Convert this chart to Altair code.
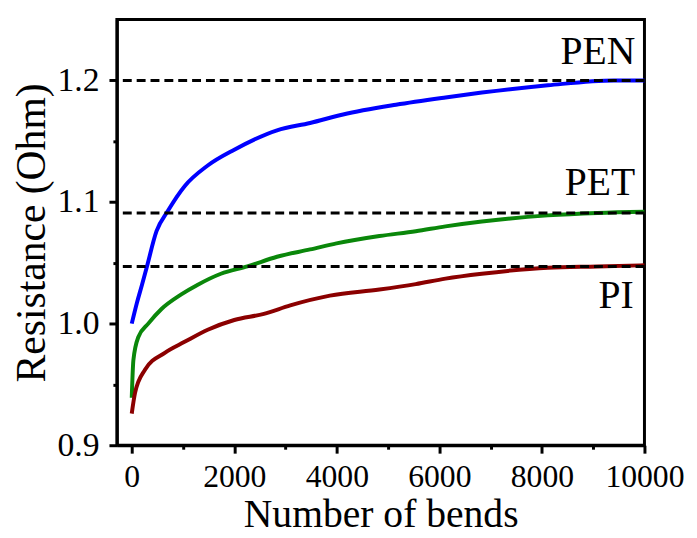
import altair as alt
import pandas as pd

# ---- data ----
pen_x = [0, 100, 200, 290, 483, 709, 1031, 1482, 2000, 2834, 3478, 4122, 5153, 6120, 6829, 8116, 9405, 10000]
pen_y = [1.000, 1.017, 1.032, 1.046, 1.076, 1.093, 1.113, 1.130, 1.143, 1.159, 1.165, 1.172, 1.180, 1.186, 1.190, 1.196, 1.200, 1.200]

pet_x = [0, 32, 129, 322, 580, 966, 1289, 1739, 2255, 2834, 3478, 3994, 4831, 5540, 6120, 6829, 8116, 9082, 10000]
pet_y = [0.939, 0.970, 0.989, 1.000, 1.012, 1.024, 1.032, 1.041, 1.047, 1.055, 1.061, 1.066, 1.072, 1.076, 1.080, 1.084, 1.089, 1.091, 1.092]

pi_x = [0, 64, 258, 645, 1031, 1482, 2000, 2577, 3092, 3865, 4831, 5540, 6120, 6829, 8116, 9082, 10000]
pi_y = [0.926, 0.943, 0.962, 0.976, 0.985, 0.995, 1.003, 1.008, 1.015, 1.023, 1.028, 1.0325, 1.037, 1.041, 1.046, 1.047, 1.048]

series_names = ["PEN", "PET", "PI"]
series_colors = ["#0000ff", "#0a870a", "#8b0000"]

ref_levels = [1.2, 1.091, 1.047]

label_text = ["PEN", "PET", "PI"]
label_x = [9820, 9820, 9790]
label_y = [1.2136, 1.1058, 1.0125]

x_major = [0, 2000, 4000, 6000, 8000, 10000]
x_minor = [1000, 3000, 5000, 7000, 9000]
y_major = [0.9, 1.0, 1.1, 1.2]
y_minor = [0.95, 1.05, 1.15]

FONT = "Liberation Serif"

rows = []
for name, xs, ys in [("PEN", pen_x, pen_y), ("PET", pet_x, pet_y), ("PI", pi_x, pi_y)]:
    for a, b in zip(xs, ys):
        rows.append({"bends": a, "R": b, "film": name})
df = pd.DataFrame(rows)
df_ref = pd.DataFrame({"level": ref_levels})
df_lab = pd.DataFrame({"t": label_text, "x": label_x, "y": label_y})

xscale = alt.Scale(domain=[-290, 10000], nice=False, zero=False)
yscale = alt.Scale(domain=[0.9, 1.25], nice=False, zero=False)

common_axis = dict(domainColor="black", domainWidth=3, tickColor="black", tickWidth=3,
                   grid=False, labelColor="black", titleColor="black")

x_axis = alt.Axis(values=x_major, format="d", tickSize=8, labelFont=FONT, labelFontSize=32, labelPadding=9,
                  labelFlush=False, title="Number of bends", titleFont=FONT, titleFontSize=40,
                  titleFontWeight="normal", titleY=82, titleBaseline="alphabetic",
                  orient="bottom", labelOverlap=False, **common_axis)
y_axis = alt.Axis(values=y_major, format=".1f", tickSize=8, labelFont=FONT, labelFontSize=34,
                  labelPadding=10, labelFlush=False, title="Resistance (Ohm)", titleFont=FONT,
                  titleFontSize=42, titleFontWeight="normal", titlePadding=4, orient="left",
                  labelOverlap=False, **common_axis)

x_axis_minor = alt.Axis(values=x_minor, tickSize=4, labels=False, title="", domain=False,
                        orient="bottom", tickColor="black", tickWidth=3, grid=False)
y_axis_minor = alt.Axis(values=y_minor, tickSize=4, labels=False, title="", domain=False,
                        orient="left", tickColor="black", tickWidth=3, grid=False)

lines = alt.Chart(df).mark_line(strokeWidth=4, interpolate="monotone").encode(
    x=alt.X("bends:Q", scale=xscale, axis=x_axis),
    y=alt.Y("R:Q", scale=yscale, axis=y_axis),
    color=alt.Color("film:N", scale=alt.Scale(domain=series_names, range=series_colors), legend=None),
    detail="film:N",
)

minor = alt.Chart(df).mark_point(opacity=0).encode(
    x=alt.X("bends:Q", scale=xscale, axis=x_axis_minor),
    y=alt.Y("R:Q", scale=yscale, axis=y_axis_minor),
)

rules = alt.Chart(df_ref).mark_rule(color="black", strokeWidth=3, strokeDash=[9, 5]).encode(
    y=alt.Y("level:Q", scale=yscale, axis=None)
)

labels = alt.Chart(df_lab).mark_text(font=FONT, fontSize=40, align="right", baseline="alphabetic",
                                     color="black").encode(
    x=alt.X("x:Q", scale=xscale, axis=None),
    y=alt.Y("y:Q", scale=yscale, axis=None),
    text="t:N",
)

chart = alt.layer(lines, minor, rules, labels).resolve_axis(x="independent", y="independent").properties(
    width=533, height=430,
    autosize=alt.AutoSizeParams(type="none"),
    padding={"left": 110, "top": 9, "right": 45, "bottom": 91},
    background="white",
).configure_view(stroke="black", strokeWidth=3)

chart.save("out.html", embed_options={"renderer": "svg", "actions": False})
